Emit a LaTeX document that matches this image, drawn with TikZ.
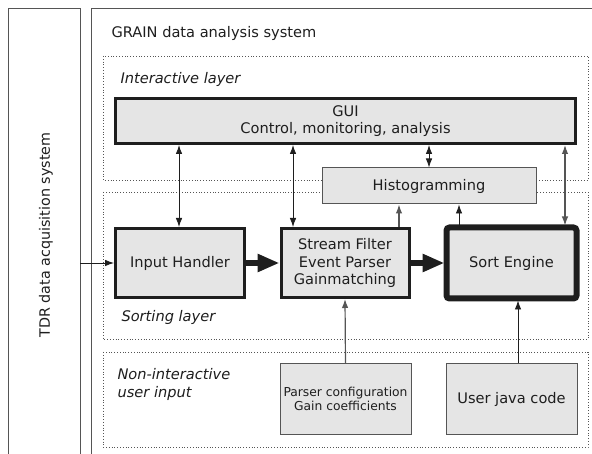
\documentclass[tikz,border=0pt]{standalone}
\usepackage{fontspec}
\setmainfont{DejaVu Sans}
\usetikzlibrary{arrows.meta}
\definecolor{boxfill}{HTML}{E5E5E5}
\definecolor{ink}{HTML}{1E1E1E}
\definecolor{thin}{HTML}{555555}
\tikzset{
  x=1pt, y=-1pt,
  every node/.style={text=ink, font=\fontsize{14.6}{17}\selectfont},
  heavybox/.style={draw=ink, fill=boxfill, line width=3pt, align=center, inner sep=0pt},
  heaviest/.style={draw=ink, fill=boxfill, line width=6pt, rounded corners=3pt, align=center, inner sep=0pt},
  lightbox/.style={draw=thin, fill=boxfill, line width=1pt, align=center, inner sep=0pt},
  layer/.style={draw=thin, dotted, line width=0.8pt},
  frame/.style={draw=thin, line width=0.9pt},
  conn/.style={draw=ink, line width=0.8pt, -{Latex[length=9pt,width=6.5pt]}},
  biconn/.style={draw=ink, line width=0.8pt, {Latex[length=9pt,width=6.5pt]}-{Latex[length=9pt,width=6.5pt]}},
  grayconn/.style={draw=thin, line width=1.2pt, -{Latex[length=9pt,width=6.5pt]}},
  graybi/.style={draw=thin, line width=1.2pt, {Latex[length=9pt,width=6.5pt]}-{Latex[length=9pt,width=6.5pt]}},
  fatarrow/.style={draw=ink, line width=6.5pt, -{Triangle[length=22pt,width=17pt]}},
  label/.style={anchor=west, font=\fontsize{14.6}{18}\selectfont\itshape},
}
\begin{document}
\begin{tikzpicture}
\useasboundingbox (0,0) rectangle (592,454);
% outer frames
\draw[frame] (8,454) -- (8,8) -- (80,8) -- (80,454);
\draw[frame] (91,454) -- (91,8) -- (592,8);
\node[rotate=90, font=\fontsize{14.3}{17}\selectfont] (tdr) at (46,235) {TDR data acquisition system};
\node[anchor=west] (grain) at (108,33) {GRAIN data analysis system};
% layers
\draw[layer] (103,56) rectangle (588,180);
\draw[layer] (103,192) rectangle (588,339);
\draw[layer] (103,352) rectangle (588,447);
\node[label] (il) at (117,79) {Interactive layer};
\node[label] (sl) at (118,317) {Sorting layer};
\node[label, align=left] (nl) at (114,384) {Non-interactive\\user input};
% boxes
\node[heavybox, minimum width=460pt, minimum height=45pt] (gui) at (345.5,121) {GUI\\Control, monitoring, analysis};
\node[lightbox, minimum width=214pt, minimum height=36pt] (hist) at (429,186) {Histogramming};
\node[heavybox, minimum width=129pt, minimum height=69pt] (inp) at (180,263) {Input Handler};
\node[heavybox, minimum width=128pt, minimum height=69pt, font=\fontsize{14.6}{17.5}\selectfont] (sf) at (345,263) {Stream Filter\\Event Parser\\Gainmatching};
\node[heaviest, minimum width=130pt, minimum height=71pt] (se) at (511.5,263) {Sort Engine};
\node[lightbox, minimum width=131pt, minimum height=70pt, font=\fontsize{12.3}{14.5}\selectfont] (pc) at (345.5,399) {Parser configuration\\Gain coefficients};
\node[lightbox, minimum width=131pt, minimum height=70pt] (uj) at (511.5,399) {User java code};
% connectors
\coordinate (tdrout) at (80,263);
\draw[conn] (tdrout) -- (inp.west);
\draw[fatarrow] (inp.east) -- (sf.west);
\draw[fatarrow] (sf.east) -- ([xshift=1pt]se.west);
\draw[biconn] (gui.south -| 179,0) -- (inp.north -| 179,0);
\draw[biconn] (gui.south -| 293,0) -- (sf.north -| 293,0);
\draw[biconn] (gui.south -| 429,0) -- (hist.north -| 429,0);
\draw[graybi] (gui.south -| 565,0) -- ([yshift=-1pt]se.north -| 565,0);
\draw[grayconn] (sf.north -| 399,0) -- (hist.south -| 399,0);
\draw[conn] ([yshift=-1pt]se.north -| 459,0) -- (hist.south -| 459,0);
\draw[grayconn] (pc.north) -- (sf.south);
\draw[conn] (uj.north -| 518,0) -- ([yshift=1pt]se.south -| 518,0);
\end{tikzpicture}
\end{document}
